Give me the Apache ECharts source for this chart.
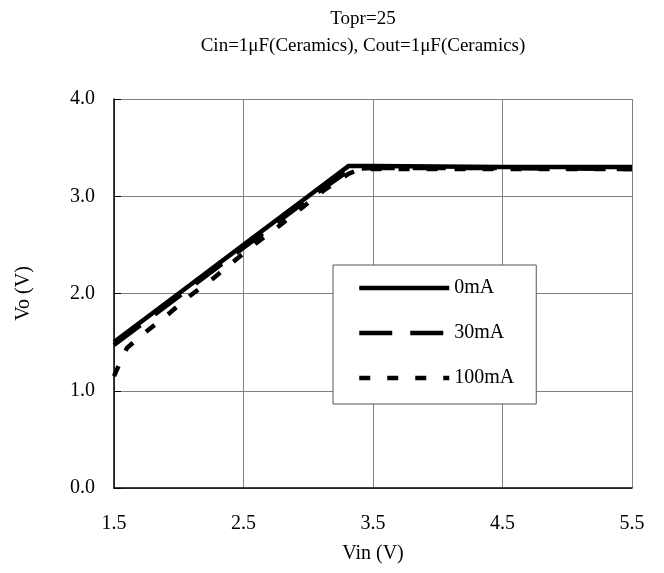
<!DOCTYPE html>
<html>
<head>
<meta charset="utf-8">
<script src="https://cdn.jsdelivr.net/npm/echarts@6/dist/echarts.min.js"></script>
<style>html,body{margin:0;padding:0;background:#fff;}#c{width:664px;height:573px;}</style>
</head>
<body>
<div id="c"></div>
<script>
const titleText = 'Topr=25\nCin=1\u03bcF(Ceramics), Cout=1\u03bcF(Ceramics)';
const xName = 'Vin (V)';
const yName = 'Vo (V)';
const seriesNames = ['0mA', '30mA', '100mA'];
const vin0 = [1.5, 2.0, 2.5, 3.0, 3.31, 3.5, 4.5, 5.5];
const vo0 = [1.50, 2.00, 2.50, 3.00, 3.31, 3.31, 3.30, 3.30];
const vin30 = [1.5, 2.0, 2.5, 3.0, 3.33, 3.5, 4.5, 5.5];
const vo30 = [1.47, 1.97, 2.47, 2.97, 3.28, 3.29, 3.29, 3.28];
const vin100 = [1.5, 1.55, 1.6, 1.75, 1.93, 2.09, 2.27, 2.6, 2.78, 2.95, 3.12, 3.31, 3.4, 4.5, 5.5];
const vo100 = [1.15, 1.30, 1.44, 1.61, 1.80, 1.98, 2.16, 2.52, 2.70, 2.88, 3.06, 3.23, 3.28, 3.28, 3.28];

const font = 'Liberation Serif';
const zip = (a, b) => a.map((v, i) => [v, b[i]]);
const styles = [
  { color: '#000', width: 4.5, type: 'solid' },
  { color: '#000', width: 4.5, type: [33, 18] },
  { color: '#000', width: 4.5, type: [11, 17] }
];

const chart = echarts.init(document.getElementById('c'));
chart.setOption({
  animation: false,
  backgroundColor: '#fff',
  title: {
    text: titleText,
    left: 363, top: 6, textAlign: 'center', padding: 0,
    textStyle: { fontFamily: font, fontSize: 19, fontWeight: 'normal', color: '#000', lineHeight: 27 }
  },
  grid: { left: 114, right: 32, top: 99, bottom: 85, containLabel: false },
  xAxis: {
    type: 'value', min: 1.5, max: 5.5, interval: 1,
    name: xName, nameLocation: 'middle', nameGap: 56,
    nameTextStyle: { fontFamily: font, fontSize: 20, color: '#000' },
    axisLine: { show: true, lineStyle: { color: '#000', width: 1.5 } },
    axisTick: { show: false },
    axisLabel: { fontFamily: font, fontSize: 20, color: '#000', margin: 26, formatter: v => v.toFixed(1) },
    splitLine: { show: true, lineStyle: { color: '#808080', width: 1 } }
  },
  yAxis: {
    type: 'value', min: 0, max: 4, interval: 1,
    name: yName, nameLocation: 'middle', nameGap: 80, nameRotate: 90,
    nameTextStyle: { fontFamily: font, fontSize: 20, color: '#000' },
    axisLine: { show: true, lineStyle: { color: '#000', width: 1.5 } },
    axisTick: { show: true, inside: true, length: 7, lineStyle: { color: '#000', width: 1 } },
    axisLabel: { fontFamily: font, fontSize: 20, color: '#000', margin: 19, formatter: v => v.toFixed(1) },
    splitLine: { show: true, lineStyle: { color: '#808080', width: 1 } }
  },
  legend: {
    orient: 'vertical', left: 333, top: 265,
    backgroundColor: '#fff', borderColor: '#555', borderWidth: 1, borderRadius: 0,
    padding: [13, 22, 16, 24],
    itemWidth: 90, itemHeight: 20, itemGap: 25,
    itemStyle: { color: 'rgba(0,0,0,0)', borderWidth: 0, opacity: 0 },
    textStyle: { fontFamily: font, fontSize: 20, color: '#000' },
    data: seriesNames.map((n, i) => ({ name: n, lineStyle: styles[i], itemStyle: { opacity: 0 } }))
  },
  series: seriesNames.map((n, i) => ({
    name: n, type: 'line',
    data: [zip(vin0, vo0), zip(vin30, vo30), zip(vin100, vo100)][i],
    showSymbol: false, symbol: 'none', z: 3 + i,
    lineStyle: styles[i], itemStyle: { color: '#000' }
  }))
});
</script>
</body>
</html>
